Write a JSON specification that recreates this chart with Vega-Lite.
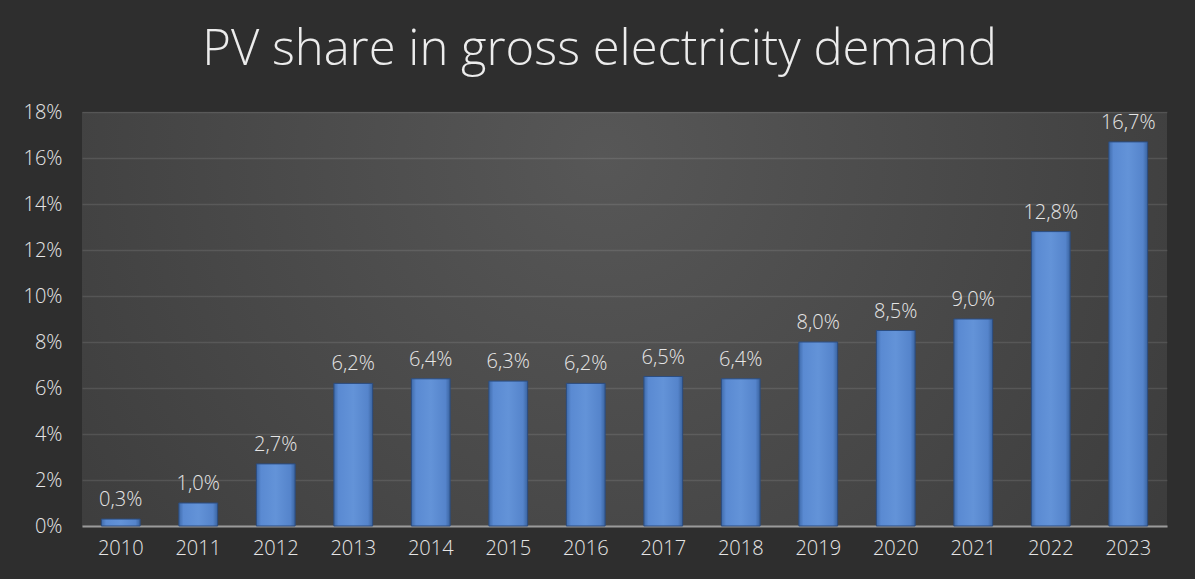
{
  "$schema": "https://vega.github.io/schema/vega-lite/v6.json",
  "width": 1085,
  "height": 414,
  "autosize": {"type": "none"},
  "padding": {"left": 82, "top": 112, "right": 28, "bottom": 53},
  "background": "#2e2e2e",
  "title": {
    "text": "PV share in gross electricity demand",
    "font": "Open Sans",
    "fontWeight": 300,
    "fontSize": 49,
    "color": "#ececec",
    "anchor": "middle",
    "dx": -25,
    "offset": 27
  },
  "config": {
    "locale": {"number": {"decimal": ",", "thousands": ".", "grouping": [3], "currency": ["", " €"]}},
    "view": {
      "stroke": null,
      "fill": {
        "gradient": "radial",
        "x1": 0.48, "y1": 0.35, "r1": 0,
        "x2": 0.48, "y2": 0.35, "r2": 0.95,
        "stops": [
          {"offset": 0, "color": "#575757"},
          {"offset": 1, "color": "#2e2e2e"}
        ]
      }
    },
    "axis": {"labelFont": "Open Sans", "labelFontWeight": 300, "labelFontSize": 20, "labelColor": "#e6e6e6", "titleColor": "#e6e6e6"}
  },
  "data": {
    "values": [
      {"year": "2010", "share": 0.003},
      {"year": "2011", "share": 0.010},
      {"year": "2012", "share": 0.027},
      {"year": "2013", "share": 0.062},
      {"year": "2014", "share": 0.064},
      {"year": "2015", "share": 0.063},
      {"year": "2016", "share": 0.062},
      {"year": "2017", "share": 0.065},
      {"year": "2018", "share": 0.064},
      {"year": "2019", "share": 0.080},
      {"year": "2020", "share": 0.085},
      {"year": "2021", "share": 0.090},
      {"year": "2022", "share": 0.128},
      {"year": "2023", "share": 0.167}
    ]
  },
  "encoding": {
    "x": {
      "field": "year", "type": "nominal", "title": null,
      "scale": {"paddingInner": 0.5, "paddingOuter": 0.25},
      "axis": {"labelAngle": 0, "ticks": false, "domainColor": "#9a9a9a", "domainWidth": 2, "labelPadding": 12}
    },
    "y": {
      "field": "share", "type": "quantitative", "title": null,
      "scale": {"domain": [0, 0.18], "nice": false},
      "axis": {"format": ".0%", "values": [0,0.02,0.04,0.06,0.08,0.1,0.12,0.14,0.16,0.18], "ticks": false, "domain": false, "gridColor": "#ffffff", "gridOpacity": 0.1, "gridWidth": 1.5, "labelPadding": 20}
    }
  },
  "layer": [
    {
      "mark": {
        "type": "bar",
        "stroke": "#2c4d80",
        "strokeWidth": 1,
        "fill": {
          "gradient": "linear",
          "x1": 0, "y1": 0, "x2": 1, "y2": 0,
          "stops": [
            {"offset": 0, "color": "#3f6bab"},
            {"offset": 0.12, "color": "#5a8ad2"},
            {"offset": 0.5, "color": "#6393d8"},
            {"offset": 0.88, "color": "#5584cb"},
            {"offset": 1, "color": "#3a64a0"}
          ]
        }
      }
    },
    {
      "mark": {"type": "text", "baseline": "bottom", "dy": -9, "font": "Open Sans", "fontWeight": 300, "fontSize": 20, "color": "#e6e6e6"},
      "encoding": {"text": {"field": "share", "type": "quantitative", "format": ".1%"}}
    }
  ]
}
